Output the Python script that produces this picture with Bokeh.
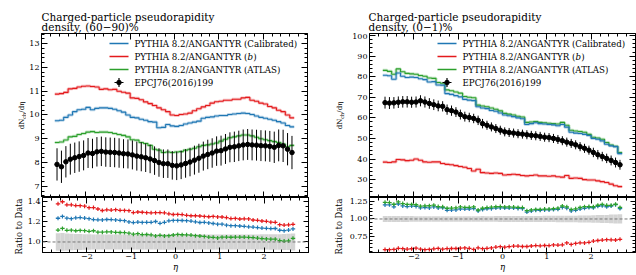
import os
import struct
import subprocess
import numpy as np
from bokeh.plotting import figure
from bokeh.models import Range1d, LinearAxis, FixedTicker, Span
from bokeh.layouts import row, column
from bokeh.embed import file_html
from bokeh.resources import INLINE
from bokeh.core.properties import value

FONT = "DejaVu Serif"

# ---------------- data ----------------
eta_edges = np.round(np.linspace(-2.7, 2.7, 55), 2)
eta_centres = np.round(0.5 * (eta_edges[:-1] + eta_edges[1:]), 3)

data_60_90 = [7.92, 7.82, 8.03, 8.14, 8.20, 8.25, 8.30, 8.40, 8.38, 8.45,
              8.47, 8.44, 8.43, 8.42, 8.40, 8.37, 8.36, 8.32, 8.27, 8.24,
              8.20, 8.15, 8.08, 8.00, 7.95, 7.95, 7.88, 7.86, 7.90, 7.96,
              8.02, 8.10, 8.18, 8.27, 8.34, 8.40, 8.48, 8.50, 8.57, 8.64,
              8.66, 8.70, 8.74, 8.76, 8.74, 8.73, 8.71, 8.70, 8.68, 8.64,
              8.72, 8.70, 8.56, 8.42]
err_60_90 = [0.68, 0.68, 0.66, 0.65, 0.64, 0.64, 0.63, 0.63, 0.62, 0.62,
             0.62, 0.62, 0.62, 0.62, 0.62, 0.61, 0.61, 0.61, 0.61, 0.61,
             0.60, 0.60, 0.60, 0.60, 0.60, 0.60, 0.60, 0.60, 0.60, 0.60,
             0.60, 0.61, 0.61, 0.61, 0.62, 0.62, 0.62, 0.63, 0.63, 0.63,
             0.64, 0.64, 0.65, 0.65, 0.65, 0.65, 0.65, 0.65, 0.65, 0.66,
             0.67, 0.68, 0.68, 0.70]
calib_60_90 = [9.76, 9.78, 9.90, 10.00, 10.14, 10.22, 10.24, 10.32, 10.22, 10.28,
               10.30, 10.30, 10.28, 10.24, 10.18, 10.12, 10.00, 9.90, 9.88, 9.82,
               9.78, 9.72, 9.70, 9.46, 9.48, 9.60, 9.54, 9.52, 9.56, 9.62,
               9.66, 9.70, 9.74, 9.86, 9.90, 9.92, 9.96, 9.98, 9.98, 10.02,
               10.04, 10.06, 10.08, 10.06, 10.02, 9.96, 9.90, 9.86, 9.82, 9.78,
               9.72, 9.66, 9.56, 9.50]
b_60_90 = [10.88, 10.90, 10.95, 11.10, 11.12, 11.18, 11.21, 11.22, 11.20, 11.18,
           11.08, 11.10, 11.06, 11.08, 11.00, 10.96, 10.92, 10.72, 10.70, 10.64,
           10.55, 10.48, 10.40, 10.30, 10.22, 10.14, 10.00, 9.98, 10.02, 10.04,
           10.08, 10.18, 10.26, 10.34, 10.40, 10.50, 10.56, 10.58, 10.62, 10.62,
           10.66, 10.66, 10.72, 10.74, 10.62, 10.58, 10.50, 10.46, 10.36, 10.30,
           10.20, 10.14, 10.00, 9.88]
atlas_60_90 = [8.84, 8.86, 8.95, 9.08, 9.10, 9.18, 9.22, 9.28, 9.30, 9.26,
               9.28, 9.28, 9.26, 9.22, 9.18, 9.14, 9.08, 8.96, 8.94, 8.84,
               8.80, 8.72, 8.56, 8.52, 8.42, 8.44, 8.42, 8.44, 8.46, 8.52,
               8.56, 8.60, 8.66, 8.72, 8.74, 8.78, 8.82, 8.90, 8.98, 9.04,
               9.08, 9.12, 9.16, 9.16, 9.12, 9.06, 9.00, 8.96, 8.92, 8.88,
               8.84, 8.78, 8.66, 8.72]

data_0_1 = [67.4, 67.2, 67.3, 67.6, 67.8, 67.8, 67.6, 67.7, 68.3, 67.7,
            67.0, 66.4, 65.8, 65.6, 64.0, 63.5, 62.8, 61.6, 60.6, 60.2,
            59.7, 58.8, 57.2, 56.4, 55.6, 54.8, 54.0, 53.2, 52.9, 52.6,
            52.3, 52.1, 51.8, 51.5, 51.3, 51.0, 50.6, 50.4, 50.0, 49.5,
            48.9, 48.2, 47.6, 46.9, 46.0, 45.2, 44.3, 43.2, 42.1, 41.2,
            40.3, 39.3, 38.3, 37.2]
err_0_1 = [2.9, 2.9, 2.8, 2.8, 2.8, 2.8, 2.7, 2.7, 2.7, 2.7,
           2.6, 2.6, 2.6, 2.5, 2.5, 2.5, 2.4, 2.4, 2.4, 2.3,
           2.3, 2.3, 2.3, 2.2, 2.2, 2.2, 2.2, 2.2, 2.2, 2.2,
           2.2, 2.2, 2.2, 2.2, 2.2, 2.2, 2.2, 2.2, 2.2, 2.2,
           2.2, 2.2, 2.2, 2.2, 2.2, 2.2, 2.2, 2.3, 2.3, 2.3,
           2.3, 2.4, 2.4, 2.4]
calib_0_1 = [80.7, 80.5, 78.8, 81.8, 80.2, 79.6, 79.8, 79.6, 79.0, 78.6,
             77.4, 77.6, 76.0, 75.9, 71.8, 71.4, 70.8, 70.2, 69.0, 68.6,
             68.4, 65.4, 64.8, 64.5, 63.6, 63.2, 62.4, 61.4, 61.0, 60.6,
             60.0, 59.6, 56.8, 57.2, 57.6, 57.2, 57.0, 56.8, 56.6, 56.2,
             56.8, 55.5, 53.0, 52.6, 52.4, 52.0, 51.4, 50.0, 49.6, 48.8,
             47.2, 46.4, 46.0, 42.6]
b_0_1 = [38.5, 38.3, 38.6, 39.8, 39.6, 39.2, 39.4, 40.0, 39.4, 38.6,
         38.4, 38.6, 38.6, 37.8, 37.4, 37.2, 36.8, 36.4, 36.0, 35.4,
         34.2, 35.0, 33.4, 33.2, 33.0, 33.2, 33.0, 32.2, 32.4, 32.6,
         32.4, 32.0, 31.8, 32.0, 32.2, 31.8, 31.8, 31.6, 31.8, 31.4,
         31.2, 32.0, 30.6, 30.8, 30.6, 30.0, 29.8, 29.8, 29.4, 29.0,
         28.6, 27.8, 27.0, 26.6]
atlas_0_1 = [83.1, 82.6, 81.2, 83.8, 82.4, 81.6, 81.4, 81.2, 80.6, 80.2,
             79.4, 79.2, 77.2, 76.8, 73.6, 73.2, 72.6, 72.0, 70.4, 70.0,
             69.8, 66.2, 65.8, 65.4, 64.8, 64.2, 63.4, 62.2, 61.8, 61.4,
             60.8, 60.4, 57.8, 58.0, 58.2, 57.8, 57.6, 57.4, 57.2, 57.0,
             57.8, 56.4, 54.0, 53.6, 53.4, 53.0, 52.0, 50.6, 50.2, 49.6,
             48.0, 46.8, 46.2, 43.2]

x_ticks = [-2, -1, 0, 1, 2]
x_tick_labels = ["\u22122", "\u22121", "0", "1", "2"]
y_ticks_60_90 = [7, 8, 9, 10, 11, 12, 13]
y_tick_labels_60_90 = ["7", "8", "9", "10", "11", "12", "13"]
y_ticks_0_1 = [30, 40, 50, 60, 70, 80, 90, 100]
y_tick_labels_0_1 = ["30", "40", "50", "60", "70", "80", "90", "100"]
r_ticks_60_90 = [1.0, 1.2, 1.4]
r_tick_labels_60_90 = ["1.0", "1.2", "1.4"]
r_ticks_0_1 = [0.75, 1.0, 1.25]
r_tick_labels_0_1 = ["0.75", "1.00", "1.25"]

legend_prefix = "PYTHIA 8.2/ANGANTYR ("
legend_tags = ["Calibrated", "b", "ATLAS"]
data_name = "EPCJ76(2016)199"
title_line1 = "Charged-particle pseudorapidity"
titles_line2 = ["density, (60\u221290)%", "density, (0\u22121)%"]
ratio_label = "Ratio to Data"

C_BLUE, C_RED, C_GREEN = "#1f77b4", "#e41a1c", "#2ca02c"

# ---------------- font metrics (for composing mixed-style texts) ----------------
EM = {" ": .318, "(": .39, ")": .39, ".": .318, ",": .318, "/": .337, "-": .338, "%": .95,
      "\u2212": .838, "\u03b7": .64}
EM.update({c: .636 for c in "0123456789"})
EM.update(dict(zip("ABCDEFGHIJKLMNOPQRSTUVWXYZ",
                   [.72, .69, .73, .79, .67, .63, .78, .84, .41, .41, .73, .64, .97, .82, .79,
                    .62, .79, .74, .65, .66, .81, .72, 1.03, .72, .68, .69])))
EM.update(dict(zip("abcdefghijklmnopqrstuvwxyz",
                   [.6, .64, .56, .64, .59, .37, .64, .64, .32, .32, .6, .32, .95, .64, .6,
                    .64, .64, .48, .51, .4, .64, .57, .83, .57, .57, .53])))


def find_font(fname, family):
    try:
        out = subprocess.run(["fc-match", "-f", "%{file}", family], capture_output=True,
                             text=True, timeout=5).stdout.strip()
        if out.endswith(fname) and os.path.exists(out):
            return out
    except Exception:
        pass
    for root in ("/usr/share/fonts", "/usr/local/share/fonts", "/usr/share", "/opt",
                 os.path.expanduser("~")):
        for dp, dn, fn in os.walk(root):
            if fname in fn:
                return os.path.join(dp, fname)
    return None


def ttf_width_fn(fname, family):
    path = find_font(fname, family)
    try:
        data = open(path, "rb").read()
        u16 = lambda o: struct.unpack(">H", data[o:o + 2])[0]
        tabs = {}
        for i in range(u16(4)):
            tag, _, off, ln = struct.unpack(">4sIII", data[12 + 16 * i:28 + 16 * i])
            tabs[tag.decode("latin1")] = off
        upem = u16(tabs["head"] + 18)
        nhm = u16(tabs["hhea"] + 34)
        hm = tabs["hmtx"]
        advs = [u16(hm + 4 * i) for i in range(nhm)]
        cm = tabs["cmap"]
        sub = None
        for i in range(u16(cm + 2)):
            pid, eid, off = struct.unpack(">HHI", data[cm + 4 + 8 * i:cm + 12 + 8 * i])
            if pid == 3 and eid == 1 and u16(cm + off) == 4:
                sub = cm + off
        segx2 = u16(sub + 6)
        n = segx2 // 2
        e_off = sub + 14
        s_off = e_off + segx2 + 2
        d_off = s_off + segx2
        r_off = d_off + segx2

        def gid(c):
            for i in range(n):
                if c <= u16(e_off + 2 * i):
                    st = u16(s_off + 2 * i)
                    if c < st:
                        return 0
                    dl = u16(d_off + 2 * i)
                    ro = u16(r_off + 2 * i)
                    if ro == 0:
                        return (c + dl) & 0xFFFF
                    g = u16(r_off + 2 * i + ro + 2 * (c - st))
                    return (g + dl) & 0xFFFF if g else 0
            return 0

        def width(text, size):
            tot = 0
            for ch in text:
                g = gid(ord(ch))
                tot += advs[g] if g < nhm else advs[-1]
            return tot / upem * size
        width("Ab", 1.0)
        return width
    except Exception:
        return lambda text, size: sum(EM.get(c, .62) for c in text) * size


w_reg = ttf_width_fn("DejaVuSerif.ttf", "DejaVu Serif")
w_it = ttf_width_fn("DejaVuSerif-Italic.ttf", "DejaVu Serif:italic")

ROW1 = legend_prefix + legend_tags[0] + ")"
LEG_SIZE = min(9.5, max(7.0, 163.0 / w_reg(ROW1, 1.0)))
TITLE_SIZE = min(11.5, max(8.0, 173.0 / w_reg(title_line1, 1.0)))

# ---------------- layout constants (Bokeh's page has no body margin) ----------
FW, FH, FHR = 266, 164, 55
TITLE_H = 33
MAIN_TOP = 0
X_RANGE = (-3.0, 3.0)


def minors(lo, hi, step, majors):
    out = []
    v = lo
    while v <= hi + 1e-9:
        if all(abs(v - m) > 1e-6 for m in majors):
            out.append(round(v, 4))
        v += step
    return out


def style_axis(ax, ticks, minor, labels=None, major_len=6, minor_len=3):
    ax.ticker = FixedTicker(ticks=ticks, minor_ticks=minor)
    ax.major_tick_in = major_len
    ax.major_tick_out = 0
    ax.minor_tick_in = minor_len
    ax.minor_tick_out = 0
    ax.axis_line_color = "black"
    ax.major_tick_line_color = "black"
    ax.minor_tick_line_color = "black"
    if labels is not None:
        ax.major_label_overrides = {t: l for t, l in zip(ticks, labels)}
        ax.major_label_text_font = FONT
        ax.major_label_text_font_size = "8px"
        ax.major_label_text_color = "black"
        ax.major_label_standoff = 2
    else:
        ax.major_label_overrides = {t: "" for t in ticks}
        ax.major_label_text_font_size = "0px"
        ax.major_label_standoff = 0


def px2x(px):
    return X_RANGE[0] + px / FW * (X_RANGE[1] - X_RANGE[0])


def py2y(yr, fh, py):
    return yr[1] - py / fh * (yr[1] - yr[0])


def blank_fig(w, h, xr, yr):
    f = figure(frame_width=w, frame_height=h, x_range=Range1d(*xr), y_range=Range1d(*yr),
               x_axis_type=None, y_axis_type=None, output_backend="svg", toolbar_location=None,
               title=None, min_border_left=0, min_border_right=0, min_border_top=0,
               min_border_bottom=0, outline_line_color=None, background_fill_color="white",
               border_fill_color="white")
    f.grid.visible = False
    return f


def panel(data, err, calib, bmc, atlas, yr, yt, ytl, ymin, rr, rt, rtl, rmin,
          title2, bl, br, ylab_w, ylab_cx, rlab_w, rlab_cx):
    total_w = bl + FW + br
    tf = blank_fig(total_w, TITLE_H, (0, total_w), (0, TITLE_H))
    tf.text(x=[bl + 1, bl + 1], y=[TITLE_H - 16.6, TITLE_H - 26.6], text=[title_line1, title2],
            text_font=value(FONT), text_font_size=value("%.2fpx" % TITLE_SIZE),
            text_baseline="alphabetic", text_color="black")

    main_h = MAIN_TOP + FH
    yf = blank_fig(ylab_w, main_h, (0, ylab_w), (main_h, 0))
    s_big, s_small = 7.0, 5.0
    w1 = w_reg("dN", s_big)
    w2 = w_reg("ch", s_small)
    w3 = w_reg("/d\u03b7", s_big)
    yc = MAIN_TOP + FH / 2
    yb = yc + (w1 + w2 + w3) / 2
    yf.text(x=[ylab_cx], y=[yb], text=["dN"], angle=np.pi / 2, text_font=value(FONT),
            text_font_size=value("%gpx" % s_big), text_baseline="middle", text_color="black")
    yf.text(x=[ylab_cx + 1.5], y=[yb - w1], text=["ch"], angle=np.pi / 2, text_font=value(FONT),
            text_font_size=value("%gpx" % s_small), text_baseline="middle", text_color="black")
    yf.text(x=[ylab_cx], y=[yb - w1 - w2], text=["/d\u03b7"], angle=np.pi / 2,
            text_font=value(FONT), text_font_size=value("%gpx" % s_big),
            text_baseline="middle", text_color="black")

    main = figure(frame_width=FW, frame_height=FH, x_range=Range1d(*X_RANGE),
                  y_range=Range1d(*yr), x_axis_type=None, y_axis_type=None, title=None,
                  output_backend="svg", toolbar_location=None,
                  min_border_left=bl - ylab_w, min_border_right=br, min_border_top=MAIN_TOP,
                  min_border_bottom=0, outline_line_color="black",
                  background_fill_color="white", border_fill_color="white")
    main.grid.visible = False
    xmin = minors(-3, 3, 0.2, x_ticks + [-3, 3])
    for loc, lab in (("left", ytl), ("right", None)):
        ax = LinearAxis()
        style_axis(ax, yt, ymin, lab)
        main.add_layout(ax, loc)
    for loc in ("below", "above"):
        ax = LinearAxis()
        style_axis(ax, x_ticks, xmin, None)
        main.add_layout(ax, loc)

    edges = list(eta_edges)
    for vals, col in ((atlas, C_GREEN), (calib, C_BLUE), (bmc, C_RED)):
        ys = list(vals) + [vals[-1]]
        main.step(x=edges, y=ys, mode="after", line_color=col, line_width=3, line_alpha=0.28)
        main.step(x=edges, y=ys, mode="after", line_color=col, line_width=1.1)

    d = np.array(data)
    e = np.array(err)
    main.segment(x0=eta_centres, x1=eta_centres, y0=d - e, y1=d + e, line_color="black", line_width=1)
    main.segment(x0=eta_edges[:-1], x1=eta_edges[1:], y0=d, y1=d, line_color="black", line_width=1)
    main.scatter(x=eta_centres, y=d, size=4.5, color="black", marker="circle")

    rows_px = [10, 23, 36, 49]
    cols = [C_BLUE, C_RED, C_GREEN]
    tfont = value(FONT)
    tsize = value("%.2fpx" % LEG_SIZE)
    tx = 93
    for i, col in enumerate(cols):
        yy = py2y(yr, FH, rows_px[i])
        main.segment(x0=[px2x(68)], x1=[px2x(87)], y0=[yy], y1=[yy], line_color=col, line_width=1.3)
    ys_rows = [py2y(yr, FH, r) for r in rows_px]
    main.text(x=[px2x(tx)] * 3, y=ys_rows[:3],
              text=[ROW1, legend_prefix, legend_prefix + legend_tags[2] + ")"],
              text_font=tfont, text_font_size=tsize, text_baseline="middle", text_color="black")
    wp = w_reg(legend_prefix, LEG_SIZE)
    wb = w_it(legend_tags[1], LEG_SIZE)
    main.text(x=[px2x(tx + wp)], y=[ys_rows[1]], text=[legend_tags[1]],
              text_font=tfont, text_font_size=tsize, text_font_style="italic",
              text_baseline="middle", text_color="black")
    main.text(x=[px2x(tx + wp + wb)], y=[ys_rows[1]], text=[")"],
              text_font=tfont, text_font_size=tsize, text_baseline="middle", text_color="black")
    main.text(x=[px2x(tx)], y=[ys_rows[3]], text=[data_name],
              text_font=tfont, text_font_size=tsize, text_baseline="middle", text_color="black")
    main.scatter(x=[px2x(77.5)], y=[ys_rows[3]], marker="cross", size=9, line_color="black", line_width=1.2)
    main.scatter(x=[px2x(77.5)], y=[ys_rows[3]], marker="circle", size=4.5, color="black")

    rat_h = FHR + 21
    rf = blank_fig(rlab_w, rat_h, (0, rlab_w), (rat_h, 0))
    rf.text(x=[rlab_cx], y=[FHR / 2 + 1.5], text=[ratio_label], angle=np.pi / 2,
            text_font=value(FONT), text_font_size=value("8.3px"), text_baseline="middle",
            text_align="center", text_color="black")

    rat = figure(frame_width=FW, frame_height=FHR, x_range=main.x_range, y_range=Range1d(*rr),
                 x_axis_type=None, y_axis_type=None, title=None, output_backend="svg",
                 toolbar_location=None, min_border_left=bl - rlab_w, min_border_right=br,
                 min_border_top=0, min_border_bottom=0, outline_line_color="black",
                 background_fill_color="white", border_fill_color="white")
    rat.grid.visible = False
    lax = LinearAxis()
    style_axis(lax, rt, rmin, rtl, major_len=5)
    rat.add_layout(lax, "left")
    rax = LinearAxis()
    style_axis(rax, rt, rmin, None, major_len=5)
    rat.add_layout(rax, "right")
    bax = LinearAxis()
    style_axis(bax, x_ticks, xmin, x_tick_labels, major_len=5)
    bax.major_label_standoff = 1
    bax.axis_label = "\u03b7"
    bax.axis_label_text_font = FONT
    bax.axis_label_text_font_size = "8.5px"
    bax.axis_label_text_font_style = "italic"
    bax.axis_label_text_color = "black"
    bax.axis_label_standoff = 0
    rat.add_layout(bax, "below")
    tax = LinearAxis()
    style_axis(tax, x_ticks, xmin, None, major_len=6)
    rat.add_layout(tax, "above")

    rel = e / d
    rat.quad(left=eta_edges[:-1], right=eta_edges[1:], bottom=1 - rel, top=1 + rel,
             fill_color="#d4d4d4", line_color=None)
    rat.add_layout(Span(location=1.0, dimension="width", line_color="#777777",
                        line_dash="3 2", line_width=1))
    for vals, col in ((bmc, C_RED), (calib, C_BLUE), (atlas, C_GREEN)):
        r = np.array(vals) / d
        rat.segment(x0=eta_edges[:-1], x1=eta_edges[1:], y0=r, y1=r, line_color=col, line_width=1.3)
        rat.scatter(x=eta_centres, y=r, marker="dash", angle=np.pi / 2, size=4,
                    line_color=col, line_width=1.2)
    return column(tf, row(yf, main), row(rf, rat))


left = panel(data_60_90, err_60_90, calib_60_90, b_60_90, atlas_60_90,
             (6.527, 13.43), y_ticks_60_90, y_tick_labels_60_90,
             minors(6.6, 13.4, 0.2, y_ticks_60_90),
             (0.897, 1.4356), r_ticks_60_90, r_tick_labels_60_90,
             minors(0.9, 1.43, 0.05, r_ticks_60_90),
             titles_line2[0], 40, 24, 26, 21.5, 24, 18.0)
right = panel(data_0_1, err_0_1, calib_0_1, b_0_1, atlas_0_1,
              (21.3, 101.0), y_ticks_0_1, y_tick_labels_0_1,
              minors(22, 100, 2, y_ticks_0_1),
              (0.53, 1.301), r_ticks_0_1, r_tick_labels_0_1,
              minors(0.55, 1.30, 0.05, r_ticks_0_1),
              titles_line2[1], 35, 5, 17, 7.7, 14, 6.7)

layout = row(left, right)
open("out.html", "w").write(file_html(layout, INLINE))
